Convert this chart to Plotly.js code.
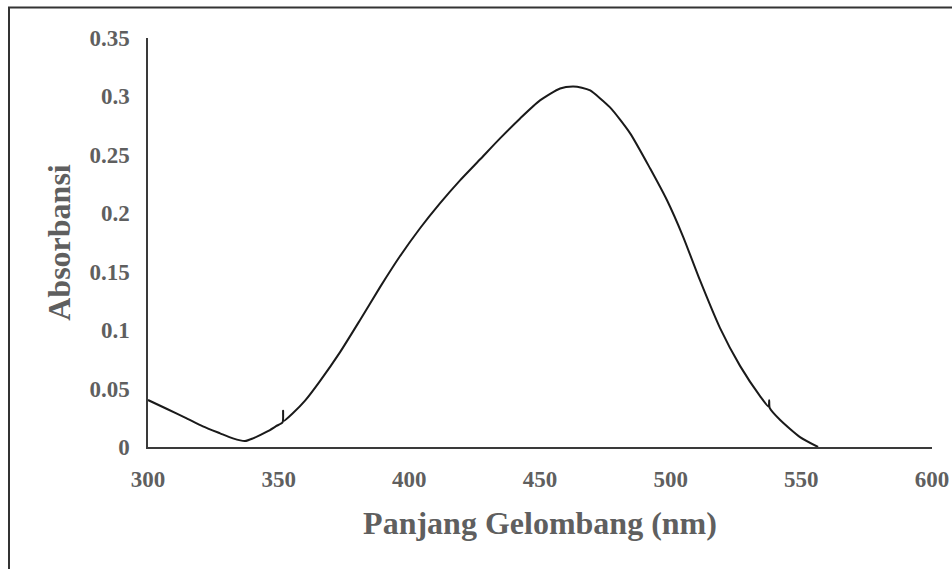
<!DOCTYPE html>
<html>
<head>
<meta charset="utf-8">
<script src="https://cdn.plot.ly/plotly-3.0.1.min.js"></script>
<style>html,body{margin:0;padding:0;background:#fff;}#chart{width:952px;height:569px;}</style>
</head>
<body>
<div id="chart"></div>
<script>
// Wavelength (nm)
const wavelength = [300, 307.3, 314.8, 321, 327.6, 332.5, 337.1, 340.2, 345.5, 349, 351.5, 351.7, 351.9, 355.5, 360.1, 365.8, 373.5, 381.1, 388.8, 396.4, 404.1, 411.7, 419.4, 427.1, 434.7, 442.4, 450, 457.7, 462.6, 466, 469.2, 476.8, 484.5, 492.1, 498.6, 504.7, 511.2, 518.9, 526.6, 534.2, 537.5, 537.7, 537.9, 541.9, 549.5, 556.4];
// Absorbance
const absorbance = [0.0402, 0.0325, 0.0245, 0.0177, 0.0117, 0.0074, 0.0051, 0.0074, 0.0131, 0.0178, 0.0212, 0.031, 0.0224, 0.0291, 0.0397, 0.0564, 0.0812, 0.1085, 0.1368, 0.1632, 0.1872, 0.2085, 0.2282, 0.2462, 0.2641, 0.2812, 0.2966, 0.3068, 0.3085, 0.3075, 0.3051, 0.2906, 0.2684, 0.2385, 0.2111, 0.1803, 0.1427, 0.1017, 0.0692, 0.0436, 0.0345, 0.040, 0.0335, 0.0231, 0.0085, 0.0];
const xTicks = [300, 350, 400, 450, 500, 550, 600];
const yTicks = [0, 0.05, 0.1, 0.15, 0.2, 0.25, 0.3, 0.35];
const yTickText = ['0', '0.05', '0.1', '0.15', '0.2', '0.25', '0.3', '0.35'];

const serif = 'Liberation Serif, Times New Roman, serif';
const gray = '#5f5f5f';

const trace = {
  x: wavelength, y: absorbance, type: 'scatter', mode: 'lines',
  line: {color: '#1a1a1a', width: 2, shape: 'spline', smoothing: 0.6},
  hoverinfo: 'x+y'
};

const layout = {
  width: 952, height: 569,
  margin: {l: 148, r: 20, t: 37.5, b: 122, pad: 0},
  paper_bgcolor: '#ffffff', plot_bgcolor: 'rgba(0,0,0,0)',
  showlegend: false,
  xaxis: {
    range: [300, 600], tickvals: xTicks, ticktext: xTicks.map(String),
    showgrid: false, zeroline: false, showline: true, linecolor: '#3a3a3a', linewidth: 1.6,
    ticks: '', ticklen: 0, ticklabelstandoff: 11,
    tickfont: {family: serif, size: 23, color: gray, weight: 'bold'},
    title: {text: '<b>Panjang Gelombang (nm)</b>', font: {family: serif, size: 32, color: gray}, standoff: 20}
  },
  yaxis: {
    range: [0, 0.35], tickvals: yTicks, ticktext: yTickText,
    showgrid: false, zeroline: false, showline: true, linecolor: '#3a3a3a', linewidth: 1.6,
    ticks: '', ticklen: 0, ticklabelstandoff: 12,
    tickfont: {family: serif, size: 23, color: gray, weight: 'bold'},
    title: {text: '<b>Absorbansi</b>', font: {family: serif, size: 32, color: gray}, standoff: 9}
  },
  shapes: [{
    type: 'rect', xref: 'paper', yref: 'paper',
    x0: (9 - 148) / 784, x1: 1.2, y0: -0.4, y1: (447 - 7) / 409.5,
    line: {color: '#333333', width: 2}, fillcolor: 'rgba(0,0,0,0)', layer: 'below'
  }]
};

Plotly.newPlot('chart', [trace], layout, {displayModeBar: false, staticPlot: true});
</script>
</body>
</html>
